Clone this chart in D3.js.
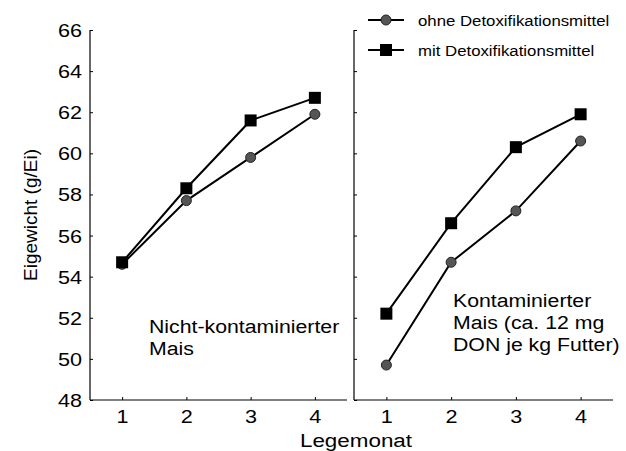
<!DOCTYPE html>
<html><head><meta charset="utf-8">
<script src="https://cdn.jsdelivr.net/npm/d3@7"></script>
<style>body{margin:0;background:#fff}svg{display:block}text{font-family:"Liberation Sans",Arial,sans-serif;fill:#000}</style>
</head><body><svg id="c" width="626" height="451"></svg>
<script>
const months = [1, 2, 3, 4];
const yTicks = [48, 50, 52, 54, 56, 58, 60, 62, 64, 66];
const leftOhne = [54.6, 57.7, 59.8, 61.9];
const leftMit = [54.7, 58.3, 61.6, 62.7];
const rightOhne = [49.7, 54.7, 57.2, 60.6];
const rightMit = [52.2, 56.6, 60.3, 61.9];
const seriesNames = ["ohne Detoxifikationsmittel", "mit Detoxifikationsmittel"];
const leftLabel = ["Nicht-kontaminierter", "Mais"];
const rightLabel = ["Kontaminierter", "Mais (ca. 12 mg", "DON je kg Futter)"];

const svg = d3.select("#c");
const y = d3.scaleLinear().domain([48, 66]).range([400, 30]);

function stext(parent, x, yy, sx, size, lines, dy, anchor) {
  const g = parent.append("g").attr("transform", `translate(${x},${yy}) scale(${sx},1)`);
  const t = g.append("text").attr("x", 0).attr("y", 0).attr("text-anchor", anchor || "start").style("font-size", size + "px");
  lines.forEach((s, i) => t.append("tspan").attr("x", 0).attr("dy", i ? dy : 0).text(s));
  return t;
}

const panels = [
  {x0: 90, x1: 347, ohne: leftOhne, mit: leftMit, labels: true, text: leftLabel, tx: 149, ty: 332.5, dy: 22.3},
  {x0: 354, x1: 613, ohne: rightOhne, mit: rightMit, labels: false, text: rightLabel, tx: 453, ty: 306.5, dy: 22.2}
];
panels.forEach(p => {
  const x = d3.scaleLinear().domain([0.5, 4.5]).range([p.x0, p.x1]);
  const g = svg.append("g");
  const ya = d3.axisRight(y).tickValues(yTicks).tickSize(3).tickFormat(p.labels ? d3.format("d") : "");
  const yg = g.append("g").attr("transform", `translate(${p.x0},0)`).call(ya);
  yg.select(".domain").attr("d", `M0,${y(66)}V${y(48)}`).attr("stroke-width", 1.2);
  yg.selectAll("text").attr("transform", "scale(1.2,1)").attr("x", -8 / 1.2)
    .attr("text-anchor", "end").attr("dy", "0.36em").style("font-size", "18px");
  const xa = d3.axisTop(x).tickValues(months).tickSize(3).tickFormat(d3.format("d"));
  const xg = g.append("g").attr("transform", `translate(0,${y(48)})`).call(xa);
  xg.select(".domain").attr("d", `M${p.x0},0H${p.x1}`).attr("stroke-width", 1.2);
  xg.selectAll("text").attr("transform", "scale(1.2,1)").attr("y", 23).attr("dy", 0).style("font-size", "18px");
  const line = d3.line().x((d, i) => x(months[i])).y(d => y(d));
  g.append("path").attr("d", line(p.ohne)).attr("fill", "none").attr("stroke", "#000").attr("stroke-width", 2);
  g.append("path").attr("d", line(p.mit)).attr("fill", "none").attr("stroke", "#000").attr("stroke-width", 2);
  g.selectAll("circle.o").data(p.ohne).join("circle").attr("class", "o")
    .attr("cx", (d, i) => x(months[i])).attr("cy", d => y(d)).attr("r", 5)
    .attr("fill", "#555").attr("stroke", "#222").attr("stroke-width", 1);
  g.selectAll("rect.m").data(p.mit).join("rect").attr("class", "m")
    .attr("x", (d, i) => x(months[i]) - 6).attr("y", d => y(d) - 6).attr("width", 12).attr("height", 12)
    .attr("fill", "#000");
  stext(g, p.tx, p.ty, 1.12, 19, p.text, p.dy);
});
// axis labels
svg.append("text").attr("transform", "translate(37,215) rotate(-90)").attr("text-anchor", "middle")
  .style("font-size", "19px").text("Eigewicht (g/Ei)");
stext(svg, 356, 447, 1.18, 19, ["Legemonat"], 0, "middle");
// legend
const lg = svg.append("g");
seriesNames.forEach((s, i) => {
  const ly = 20 + i * 30;
  lg.append("line").attr("x1", 368).attr("x2", 404).attr("y1", ly).attr("y2", ly).attr("stroke", "#000").attr("stroke-width", 2);
  if (i === 0) lg.append("circle").attr("cx", 386).attr("cy", ly).attr("r", 5).attr("fill", "#555").attr("stroke", "#222");
  else lg.append("rect").attr("x", 380).attr("y", ly - 6).attr("width", 12).attr("height", 12).attr("fill", "#000");
  stext(lg, 418, ly + 5.5, 1.12, 15, [s], 0).attr("fill", "#222");
});
</script></body></html>
